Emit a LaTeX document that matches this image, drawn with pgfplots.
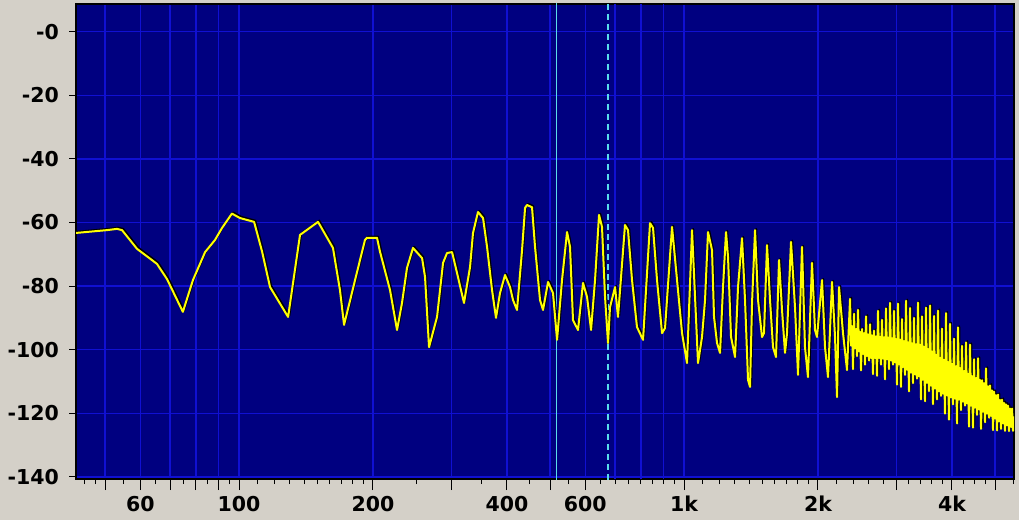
\documentclass[border=0pt]{standalone}
\usepackage{fontspec}
\setmainfont{DejaVu Sans}
\usepackage{pgfplots}
\usepackage{pgfplotstable}
\pgfplotsset{compat=1.18}
\definecolor{winbg}{RGB}{212,208,200}
\definecolor{plotbg}{RGB}{0,0,128}
\definecolor{gridblue}{RGB}{16,16,210}
\definecolor{cursor}{RGB}{90,220,235}
\definecolor{trace}{RGB}{255,255,0}

\pgfplotstableread{
f db
42.9 -63.3
50.5 -62.4
53.2 -62.0
54.6 -62.4
59.0 -68.3
65.4 -73.0
68.9 -77.8
74.8 -88.1
78.8 -78.1
83.9 -69.3
88.3 -65.5
91.6 -61.7
96.4 -57.2
100.5 -58.6
108.1 -59.8
112.6 -69.0
117.4 -80.3
128.9 -89.7
137.1 -63.9
150.5 -59.8
162.6 -68.0
168.6 -81.3
172.2 -92.2
182.3 -78.1
191.9 -65.5
193.9 -64.8
204.2 -64.8
207.4 -69.2
218.4 -81.2
226.5 -93.8
232.4 -85.3
238.5 -74.3
246.0 -68.0
257.8 -71.2
261.8 -77.1
267.3 -99.2
278.6 -89.7
287.4 -72.7
293.4 -69.6
301.1 -69.3
309.0 -75.9
320.3 -85.3
330.5 -74.0
335.6 -63.3
344.4 -56.7
353.5 -58.6
360.9 -67.7
370.3 -81.2
378.0 -90.0
385.9 -82.2
396.1 -76.5
406.4 -80.3
412.8 -84.4
421.4 -87.5
432.5 -68.7
439.3 -55.4
443.8 -54.5
455.4 -55.2
462.6 -67.7
474.7 -84.4
482.1 -87.5
494.8 -78.7
507.7 -82.2
518.4 -96.9
531.9 -78.1
545.9 -63.0
554.4 -67.7
563.0 -90.7
577.8 -93.8
593.0 -79.0
605.4 -83.4
618.1 -93.8
631.0 -78.1
644.2 -57.6
654.2 -61.4
664.5 -83.4
674.9 -97.9
681.9 -86.6
699.8 -80.3
710.7 -89.7
736.9 -60.8
748.4 -62.4
764.1 -78.1
784.1 -92.9
808.9 -96.9
838.7 -60.2
851.8 -61.7
869.6 -78.1
892.5 -94.8
906.4 -93.2
939.8 -61.4
964.5 -78.1
989.8 -94.8
1015.6 -104.2
1042.3 -62.4
1058.6 -83.4
1075.1 -104.2
1097.6 -96.0
1114.8 -84.4
1132.2 -63.0
1155.9 -68.7
1167.9 -89.7
1186.2 -97.9
1204.8 -101.0
1223.6 -80.3
1242.7 -63.0
1255.7 -70.9
1275.3 -96.0
1302.0 -102.3
1322.3 -80.3
1350.0 -64.9
1371.1 -84.4
1392.6 -109.5
1407.1 -111.7
1421.8 -85.3
1444.0 -62.4
1466.6 -84.4
1497.2 -96.0
1512.8 -94.8
1536.5 -67.1
1560.5 -84.4
1584.9 -99.2
1609.6 -102.3
1634.9 -71.8
1660.4 -87.5
1686.4 -101.0
1704.0 -94.8
1739.6 -66.1
1776.0 -86.6
1803.8 -107.9
1841.5 -67.7
1870.3 -99.2
1899.5 -108.6
1939.3 -72.7
1969.6 -93.8
1990.2 -96.0
2042.4 -78.1
2074.3 -99.2
2106.7 -108.6
2150.8 -78.7
2184.4 -96.0
2207.2 -114.9
2230.1 -80.3
2276.7 -94.8
2324.3 -106.4
2360.8 -84.0
2373.0 -98.7
2385.3 -92.6
2397.7 -106.1
2410.1 -88.7
2422.6 -99.6
2435.1 -93.5
2447.8 -102.0
2460.4 -87.5
2473.2 -100.5
2486.1 -94.4
2499.0 -106.5
2511.9 -93.5
2524.9 -101.3
2538.1 -94.8
2551.3 -104.7
2564.5 -89.5
2577.8 -102.0
2591.2 -95.2
2604.6 -103.4
2618.1 -92.0
2631.7 -102.6
2645.3 -95.5
2659.0 -107.7
2672.8 -94.0
2686.7 -102.6
2700.6 -95.8
2714.6 -108.2
2728.7 -87.8
2742.9 -102.6
2757.1 -96.0
2771.4 -104.7
2785.8 -90.6
2800.3 -102.8
2814.8 -96.1
2829.4 -109.3
2844.1 -87.0
2858.9 -103.0
2873.7 -96.2
2888.6 -106.1
2903.6 -85.3
2918.7 -103.4
2933.8 -96.4
2949.0 -104.7
2964.3 -87.8
2979.7 -104.0
2995.1 -96.7
3010.6 -111.0
3026.3 -85.5
3042.0 -104.6
3057.8 -96.9
3073.7 -111.7
3089.6 -90.4
3105.6 -105.5
3121.7 -97.3
3137.9 -107.9
3154.2 -84.6
3170.6 -106.3
3187.0 -97.7
3203.5 -113.1
3220.2 -86.9
3236.9 -107.2
3253.7 -98.0
3270.6 -110.5
3287.5 -90.0
3304.6 -107.8
3321.7 -98.3
3338.9 -109.1
3356.3 -85.2
3373.7 -108.4
3391.2 -98.5
3408.8 -115.6
3426.5 -89.5
3444.3 -109.4
3462.1 -99.1
3480.1 -116.2
3498.1 -86.8
3516.2 -110.4
3534.5 -99.8
3552.8 -113.0
3571.3 -86.1
3589.8 -111.3
3608.4 -100.6
3627.1 -117.1
3645.9 -89.4
3664.8 -112.2
3683.9 -101.6
3703.0 -115.6
3722.2 -87.7
3741.5 -113.1
3760.9 -102.6
3780.4 -114.5
3800.0 -93.4
3819.7 -113.8
3839.5 -103.2
3859.4 -120.1
3879.5 -88.5
3899.6 -114.4
3919.8 -103.9
3940.1 -122.0
3960.6 -91.9
3981.1 -115.0
4001.8 -104.5
4022.6 -117.2
4043.4 -96.5
4064.4 -115.4
4085.5 -105.2
4106.7 -123.2
4128.0 -93.0
4149.4 -115.7
4170.9 -105.8
4192.5 -119.0
4214.3 -98.8
4236.2 -116.3
4258.1 -106.7
4280.2 -117.6
4302.4 -97.7
4324.7 -116.9
4347.2 -107.6
4369.8 -124.2
4392.4 -98.4
4415.2 -117.6
4438.1 -108.3
4461.1 -124.5
4484.2 -103.0
4507.5 -118.2
4530.9 -108.9
4554.4 -120.5
4578.0 -102.7
4601.8 -118.8
4625.6 -109.5
4649.6 -124.9
4673.7 -109.6
4697.9 -119.5
4722.3 -110.5
4746.8 -122.8
4771.4 -105.9
4796.2 -120.1
4821.1 -111.5
4846.1 -121.4
4871.2 -111.2
4896.5 -120.8
4921.9 -112.8
4947.4 -125.3
4973.1 -113.2
4998.9 -121.6
5024.8 -114.3
5050.9 -125.4
5077.0 -114.1
5103.3 -122.5
5129.8 -115.8
5156.4 -124.9
5183.2 -115.7
5210.1 -123.2
5237.1 -116.7
5264.3 -125.5
5291.6 -117.2
5319.1 -123.8
5346.6 -117.6
5374.3 -125.6
5402.2 -118.5
5430.2 -124.3
5458.4 -118.5
5486.7 -125.5
5515.2 -121.0
}\spectrum

\begin{document}
\begin{tikzpicture}[x=1pt,y=1pt]
\fill[winbg] (0,0) rectangle (1019,520);
\begin{axis}[
  at={(76pt,41pt)}, anchor=south west,
  scale only axis, width=938pt, height=475pt,
  xmode=log, log basis x=10,
  xmin=43.02, xmax=5515, ymin=-140.66, ymax=8.71,
  axis background/.style={fill=plotbg},
  axis line style={black, line width=2pt},
  tick align=outside,
  xtick pos=bottom, ytick pos=left,
  xtick={50,60,70,80,90,100,200,300,400,500,600,1000,2000,3000,4000,5000},
  xticklabels={,60,,,,100,200,,400,,600,1k,2k,,4k,},
  extra x ticks={700,800,900},
  extra x tick labels={},
  extra x tick style={grid=major, xtick style={/pgfplots/major tick length=5pt}},
  minor xtick={45,47.5,55,65,75,85,95,110,120,130,140,150,160,170,180,190,250,350,450,550,650,750,850,950,1100,1200,1300,1400,1500,1600,1700,1800,1900,2200,2400,2600,2800,3200,3400,3600,3800,4250,4500,4750,5500},
  ytick={-140,-120,-100,-80,-60,-40,-20,0},
  yticklabels={-140,-120,-100,-80,-60,-40,-20,-0},
  xmajorgrids=true, ymajorgrids=true,
  major grid style={gridblue, line width=1.4pt},
  major tick length=11pt, minor tick length=5pt,
  ytick style={/pgfplots/major tick length=7pt},
  tick style={black, line width=1pt},
  ticklabel style={font=\fontsize{20.5}{24}\selectfont\bfseries, text=black},
  xticklabel style={anchor=north, inner sep=0pt, yshift=-6pt},
  yticklabel style={anchor=east, inner sep=0pt, xshift=-6pt},
  clip=true,
]
\addplot[cursor, line width=1pt] coordinates {(515.7,-141) (515.7,9)};
\addplot[cursor, line width=2pt, dash pattern=on 6.5pt off 3.5pt] coordinates {(673.8,-141) (673.8,9)};
\addplot[black, line width=2pt, line join=round, transform canvas={xshift=1.2pt, yshift=1.2pt}] table[x=f, y=db] {\spectrum};
\addplot[trace, line width=2pt, line join=round] table[x=f, y=db] {\spectrum};
\end{axis}
\end{tikzpicture}
\end{document}
